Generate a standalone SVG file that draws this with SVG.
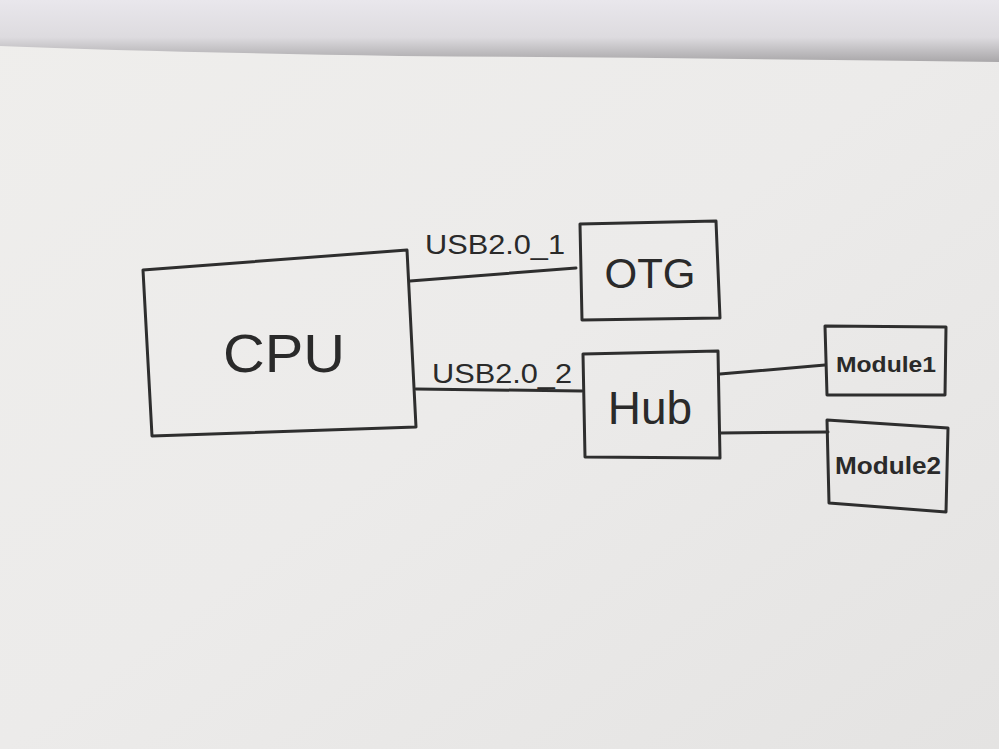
<svg xmlns="http://www.w3.org/2000/svg" width="999" height="749" viewBox="0 0 999 749">
<defs>
<linearGradient id="paper" x1="0" y1="0" x2="1" y2="1">
<stop offset="0" stop-color="#efeeec"/>
<stop offset="0.5" stop-color="#ecebea"/>
<stop offset="1" stop-color="#e4e3e2"/>
</linearGradient>
<linearGradient id="top" x1="0" y1="0" x2="0" y2="1">
<stop offset="0" stop-color="#e9e7ec"/>
<stop offset="0.6" stop-color="#dddbdf"/>
<stop offset="1" stop-color="#a9a7a9"/>
</linearGradient>
</defs>
<style>
.box{fill:none;stroke:#2e2e2e;stroke-width:3;stroke-linejoin:round}
.wire{fill:none;stroke:#2e2e2e;stroke-width:3;stroke-linecap:round}
.t{font-family:"Liberation Sans",Arial,sans-serif;fill:#2a2a2a}
</style>
<rect x="0" y="0" width="999" height="749" fill="url(#paper)"/>
<path d="M0 0 H999 V62 Q700 58 400 56 Q150 52 0 46 Z" fill="url(#top)"/>
<g id="cpu">
<polygon class="box" points="143,270 407,250 416,427 152,436"/>
<text class="t" x="284" y="372" font-size="54" text-anchor="middle" textLength="122" lengthAdjust="spacingAndGlyphs">CPU</text>
</g>
<g id="otg">
<polygon class="box" points="580,224 716,221 720,318 582,320"/>
<text class="t" x="650" y="288" font-size="42" text-anchor="middle">OTG</text>
</g>
<g id="hub">
<polygon class="box" points="583,354 718,351 720,458 585,457"/>
<text class="t" x="650" y="424" font-size="46" text-anchor="middle">Hub</text>
</g>
<g id="module1">
<polygon class="box" points="825,326 946,327 945,395 827,395"/>
<text class="t" x="886" y="372" font-size="22" font-weight="bold" text-anchor="middle" textLength="100" lengthAdjust="spacingAndGlyphs">Module1</text>
</g>
<g id="module2">
<polygon class="box" points="827,420 948,428 946,512 829,503"/>
<text class="t" x="888" y="474" font-size="23" font-weight="bold" text-anchor="middle" textLength="106" lengthAdjust="spacingAndGlyphs">Module2</text>
</g>
<g id="connectors">
<path class="wire" d="M410 281 L576 268"/>
<path class="wire" d="M416 389 L582 391"/>
<path class="wire" d="M720 374 L825 365"/>
<path class="wire" d="M720 433 L828 432"/>
<text class="t" x="425" y="254" font-size="28" textLength="140" lengthAdjust="spacingAndGlyphs">USB2.0_1</text>
<text class="t" x="432" y="383" font-size="28" textLength="140" lengthAdjust="spacingAndGlyphs">USB2.0_2</text>
</g>
</svg>
